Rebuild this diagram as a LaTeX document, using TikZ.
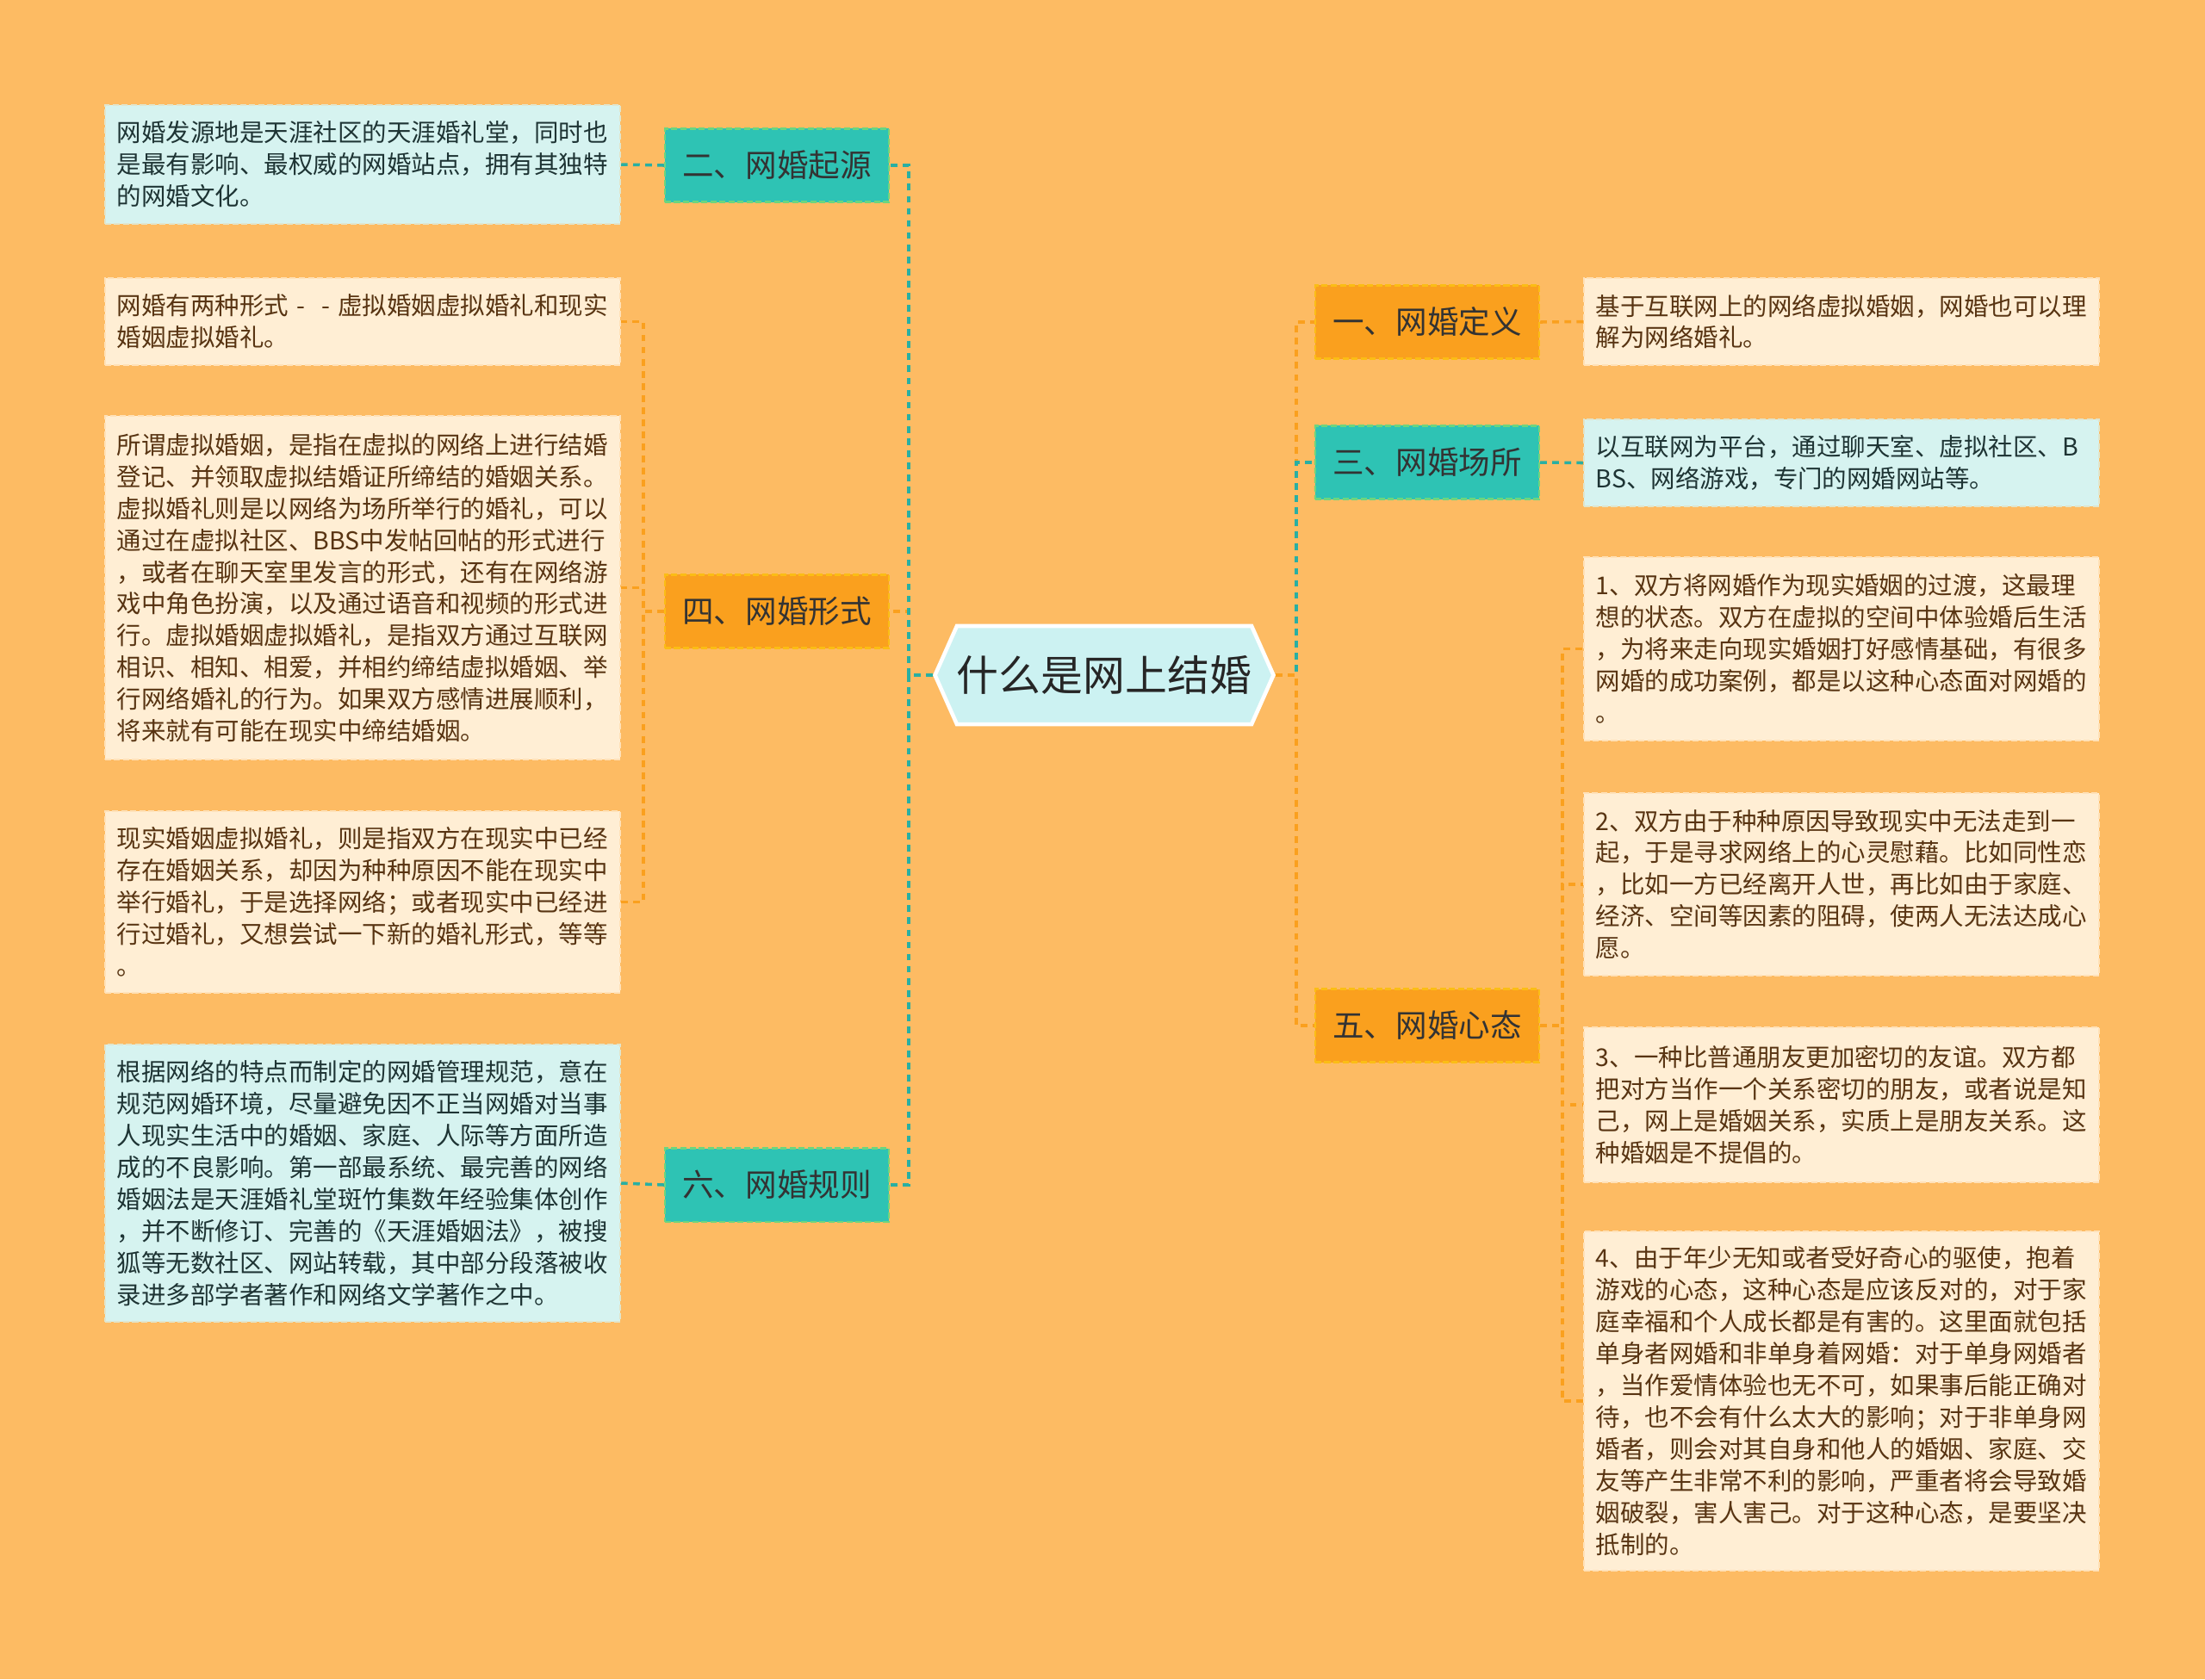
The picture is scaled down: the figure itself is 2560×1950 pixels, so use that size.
\documentclass[tikz,border=0pt]{standalone}
\usepackage{fontspec}
\setmainfont{Noto Sans CJK SC}
\usepackage{tikz}
\usetikzlibrary{shapes.symbols, positioning}
\usepackage{xcolor}
\definecolor{bgcolor}{RGB}{253,187,99}
\definecolor{tealcolor}{RGB}{46,195,180}
\definecolor{orangecolor}{RGB}{250,160,30}
\definecolor{cyanleaf}{RGB}{214,243,240}
\definecolor{creamleaf}{RGB}{255,238,212}
\definecolor{hubcolor}{RGB}{204,242,242}
\definecolor{browntext}{RGB}{88,52,18}
\definecolor{slatetext}{RGB}{30,52,52}

\begin{document}
\begin{tikzpicture}[
    x=0.01cm, y=-0.01cm,
    hub/.style={signal, signal to=east and west, signal pointer angle=132, draw=white, line width=1.3pt, fill=hubcolor, minimum width=3.92cm, minimum height=1.14cm, inner xsep=0pt, font=\fontsize{13.9}{16}\selectfont, text=black!85},
    topic/.style={rectangle, fill=#1, draw=#1!70!yellow, dash pattern=on 2pt off 1pt, line width=0.6pt, minimum width=2.6cm, minimum height=0.85cm, font=\fontsize{10.4}{12}\selectfont, text=black!80},
    leaf/.style={rectangle, fill=#1, draw=#1!75!bgcolor, dash pattern=on 2pt off 1pt, line width=0.6pt, text width=5.7cm, inner xsep=0.14cm, align=left, font=\fontsize{8.1}{10.5}\selectfont},
    tealline/.style={draw=tealcolor!90!black, line width=1pt, dash pattern=on 2.2pt off 1.8pt},
    orangeline/.style={draw=orangecolor, line width=1pt, dash pattern=on 2.2pt off 1.8pt}
]
\fill[bgcolor] (0,0) rectangle (2560,1950);
\useasboundingbox (0,0) rectangle (2560,1950);

\node[hub] (hub) at (1282,784) {什么是网上结婚};

\node[topic=tealcolor] (n2) at (902,192) {二、网婚起源};
\node[topic=orangecolor] (n4) at (902,710) {四、网婚形式};
\node[topic=tealcolor] (n6) at (902,1376) {六、网婚规则};
\node[topic=orangecolor] (n1) at (1657,374) {一、网婚定义};
\node[topic=tealcolor] (n3) at (1657,537) {三、网婚场所};
\node[topic=orangecolor] (n5) at (1657,1191) {五、网婚心态};

\node[leaf=cyanleaf, text=slatetext, minimum height=1.38cm] (l1) at (421,191) {网婚发源地是天涯社区的天涯婚礼堂，同时也\\是最有影响、最权威的网婚站点，拥有其独特\\的网婚文化。};
\node[leaf=creamleaf, text=browntext, minimum height=1.01cm] (l2) at (421,373.5) {网婚有两种形式\makebox[1em]{-}\makebox[1em]{-}虚拟婚姻虚拟婚礼和现实\\婚姻虚拟婚礼。};
\node[leaf=creamleaf, text=browntext, minimum height=3.99cm] (l3) at (421,682.5) {所谓虚拟婚姻，是指在虚拟的网络上进行结婚\\登记、并领取虚拟结婚证所缔结的婚姻关系。\\虚拟婚礼则是以网络为场所举行的婚礼，可以\\通过在虚拟社区、BBS中发帖回帖的形式进行\\，或者在聊天室里发言的形式，还有在网络游\\戏中角色扮演，以及通过语音和视频的形式进\\行。虚拟婚姻虚拟婚礼，是指双方通过互联网\\相识、相知、相爱，并相约缔结虚拟婚姻、举\\行网络婚礼的行为。如果双方感情进展顺利，\\将来就有可能在现实中缔结婚姻。};
\node[leaf=creamleaf, text=browntext, minimum height=2.11cm] (l4) at (421,1047.5) {现实婚姻虚拟婚礼，则是指双方在现实中已经\\存在婚姻关系，却因为种种原因不能在现实中\\举行婚礼，于是选择网络；或者现实中已经进\\行过婚礼，又想尝试一下新的婚礼形式，等等\\。};
\node[leaf=cyanleaf, text=slatetext, minimum height=3.22cm] (l5) at (421,1374) {根据网络的特点而制定的网婚管理规范，意在\\规范网婚环境，尽量避免因不正当网婚对当事\\人现实生活中的婚姻、家庭、人际等方面所造\\成的不良影响。第一部最系统、最完善的网络\\婚姻法是天涯婚礼堂斑竹集数年经验集体创作\\，并不断修订、完善的《天涯婚姻法》，被搜\\狐等无数社区、网站转载，其中部分段落被收\\录进多部学者著作和网络文学著作之中。};

\node[leaf=creamleaf, text=browntext, minimum height=1.01cm] (r1) at (2138,373.5) {基于互联网上的网络虚拟婚姻，网婚也可以理\\解为网络婚礼。};
\node[leaf=cyanleaf, text=slatetext, minimum height=1.01cm] (r2) at (2138,537.5) {以互联网为平台，通过聊天室、虚拟社区、B\\BS、网络游戏，专门的网婚网站等。};
\node[leaf=creamleaf, text=browntext, minimum height=2.13cm] (r3) at (2138,753.5) {1、双方将网婚作为现实婚姻的过渡，这最理\\想的状态。双方在虚拟的空间中体验婚后生活\\，为将来走向现实婚姻打好感情基础，有很多\\网婚的成功案例，都是以这种心态面对网婚的\\。};
\node[leaf=creamleaf, text=browntext, minimum height=2.12cm] (r4) at (2138,1027) {2、双方由于种种原因导致现实中无法走到一\\起，于是寻求网络上的心灵慰藉。比如同性恋\\，比如一方已经离开人世，再比如由于家庭、\\经济、空间等因素的阻碍，使两人无法达成心\\愿。};
\node[leaf=creamleaf, text=browntext, minimum height=1.8cm] (r5) at (2138,1283) {3、一种比普通朋友更加密切的友谊。双方都\\把对方当作一个关系密切的朋友，或者说是知\\己，网上是婚姻关系，实质上是朋友关系。这\\种婚姻是不提倡的。};
\node[leaf=creamleaf, text=browntext, minimum height=3.94cm] (r6) at (2138,1627) {4、由于年少无知或者受好奇心的驱使，抱着\\游戏的心态，这种心态是应该反对的，对于家\\庭幸福和个人成长都是有害的。这里面就包括\\单身者网婚和非单身着网婚：对于单身网婚者\\，当作爱情体验也无不可，如果事后能正确对\\待，也不会有什么太大的影响；对于非单身网\\婚者，则会对其自身和他人的婚姻、家庭、交\\友等产生非常不利的影响，严重者将会导致婚\\姻破裂，害人害己。对于这种心态，是要坚决\\抵制的。};

\draw[orangeline] (hub.west) -- ++(-28,0) |- (n4.east);
\draw[tealline] (hub.west) -- ++(-28,0) |- (n2.east);
\draw[tealline] (hub.west) -- ++(-28,0) |- (n6.east);
\draw[orangeline] (hub.east) -- ++(24,0) |- (n1.west);
\draw[tealline] (hub.east) -- ++(24,0) |- (n3.west);
\draw[orangeline] (hub.east) -- ++(24,0) |- (n5.west);

\draw[tealline] (n2.west) -- (l1.east);
\draw[orangeline] (n4.west) -- ++(-24,0) |- (l2.east);
\draw[orangeline] (n4.west) -- ++(-24,0) |- (l3.east);
\draw[orangeline] (n4.west) -- ++(-24,0) |- (l4.east);
\draw[tealline] (n6.west) -- (l5.east);

\draw[orangeline] (n1.east) -- (r1.west);
\draw[tealline] (n3.east) -- (r2.west);
\draw[orangeline] (n5.east) -- ++(26,0) |- (r3.west);
\draw[orangeline] (n5.east) -- ++(26,0) |- (r4.west);
\draw[orangeline] (n5.east) -- ++(26,0) |- (r5.west);
\draw[orangeline] (n5.east) -- ++(26,0) |- (r6.west);
\end{tikzpicture}
\end{document}
